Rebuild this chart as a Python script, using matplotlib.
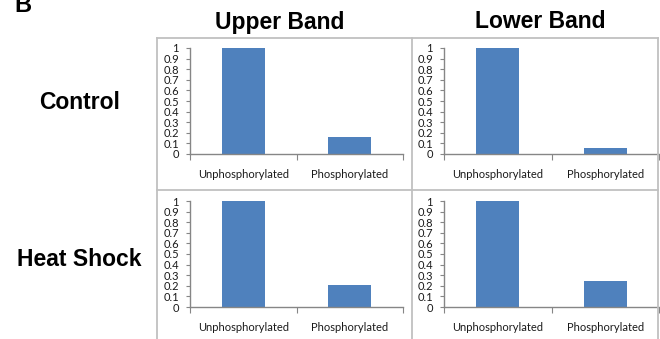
import matplotlib
matplotlib.use("Agg")
import matplotlib.pyplot as plt
from matplotlib.lines import Line2D

# data
categories = ["Unphosphorylated", "Phosphorylated"]
band_titles = ["Upper Band", "Lower Band"]
row_titles = ["Control", "Heat Shock"]
values = {
    ("Control", "Upper Band"): [1.0, 0.163],
    ("Control", "Lower Band"): [1.0, 0.06],
    ("Heat Shock", "Upper Band"): [1.0, 0.21],
    ("Heat Shock", "Lower Band"): [1.0, 0.245],
}
yticks = [0, 0.1, 0.2, 0.3, 0.4, 0.5, 0.6, 0.7, 0.8, 0.9, 1]
ytick_labels = ["0", "0.1", "0.2", "0.3", "0.4", "0.5", "0.6", "0.7", "0.8", "0.9", "1"]

W, H = 660, 339
fig = plt.figure(figsize=(W / 100, H / 100), dpi=100)

bar_col = "#4F81BD"
axis_col = "#868686"
box_col = "#C0C0C0"
tick_font = "Lato"


def fx(px):
    return px / W


def fy(py):
    return 1 - py / H


# panel boxes
for x in [157, 412, 658]:
    fig.add_artist(Line2D([fx(x), fx(x)], [fy(38), 0], color=box_col, lw=1.3))
for y in [38, 190]:
    fig.add_artist(Line2D([fx(157), fx(658)], [fy(y), fy(y)], color=box_col, lw=1.3))

# axes positions in pixels: left, right, top, bottom
cols_px = [(190, 403), (444, 659)]
rows_px = [(48, 154), (201, 307)]

for r, row in enumerate(row_titles):
    for c, band in enumerate(band_titles):
        l, rr = cols_px[c]
        t, b = rows_px[r]
        ax = fig.add_axes([fx(l), fy(b), fx(rr - l), (b - t) / H])
        ax.bar([0, 1], values[(row, band)], width=0.4, color=bar_col)
        ax.set_xlim(-0.5, 1.5)
        ax.set_ylim(0, 1)
        for s in ["top", "right"]:
            ax.spines[s].set_visible(False)
        for s in ["left", "bottom"]:
            ax.spines[s].set_color(axis_col)
            ax.spines[s].set_linewidth(1.0)
        ax.set_yticks(yticks)
        ax.set_yticklabels(ytick_labels, fontsize=8, family=tick_font, color="#1a1a1a")
        ax.tick_params(axis="y", direction="out", length=3, width=0.8, color=axis_col, pad=5)
        ax.set_xticks([-0.5, 0.5, 1.5])
        ax.set_xticklabels([])
        ax.tick_params(axis="x", which="major", direction="out", length=4, width=0.8, color=axis_col)
        ax.set_xticks([0, 1], minor=True)
        ax.set_xticklabels(categories, minor=True, fontsize=8, family=tick_font, color="#1a1a1a")
        ax.tick_params(axis="x", which="minor", length=0, pad=11)
        ax.patch.set_alpha(0)

# headings
title_kw = dict(fontsize=16.5, fontweight="bold", family="Liberation Sans", ha="center", va="center")
fig.text(fx(280), fy(22), band_titles[0], **title_kw)
fig.text(fx(540), fy(22), band_titles[1], **title_kw)
fig.text(fx(80), fy(103), row_titles[0], **title_kw)
fig.text(fx(79), fy(260), row_titles[1], **title_kw)
fig.text(fx(14), fy(12), "B", fontsize=17, fontweight="bold", family="Liberation Sans",
         ha="left", va="baseline")

fig.savefig("out.png", dpi=100)
